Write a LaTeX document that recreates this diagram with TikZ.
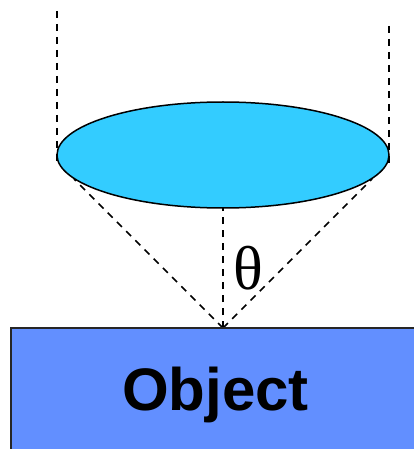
\documentclass[tikz,border=0pt]{standalone}
\usepackage{fontspec}
\setmainfont{Liberation Sans}
\newfontfamily\serifgreek{Liberation Serif}
\usetikzlibrary{shapes.geometric}
\definecolor{lensblue}{RGB}{51,204,255}
\definecolor{objblue}{RGB}{98,143,255}
\tikzset{guide/.style={draw=black,line width=1.5pt,dash pattern=on 7pt off 6pt},
lens/.style={draw=black,line width=1.5pt,fill=lensblue,ellipse,minimum width=332pt,minimum height=106pt,inner sep=0pt},
objbox/.style={draw=black!85,line width=1.4pt,fill=objblue}}
\begin{document}
\begin{tikzpicture}[x=1pt,y=-1pt]
\useasboundingbox (0,0) rectangle (414,449);
\coordinate (P) at (223,328);
\coordinate (TL) at (57,11);
\coordinate (TR) at (389,26);
\coordinate (BL) at (57,163);
\coordinate (BR) at (389,163);
\coordinate (CL) at (74,179);
\coordinate (CR) at (372,179);
\coordinate (LB) at (223,208);
\draw[guide] (TL) -- (BL);
\draw[guide] (TR) -- (BR);
\draw[guide] (P) -- (CL);
\draw[guide] (P) -- (CR);
\draw[guide] (P) -- (LB);
\node[lens] (L) at (223,155) {};
\draw[objbox] (11,328) rectangle (420,455);
\node[font=\bfseries] (O) at (215.5,395) {\fontsize{60}{64}\selectfont Object};
\node (T) at (248,268) {\serifgreek\fontsize{62}{66}\selectfont θ};
\end{tikzpicture}
\end{document}
